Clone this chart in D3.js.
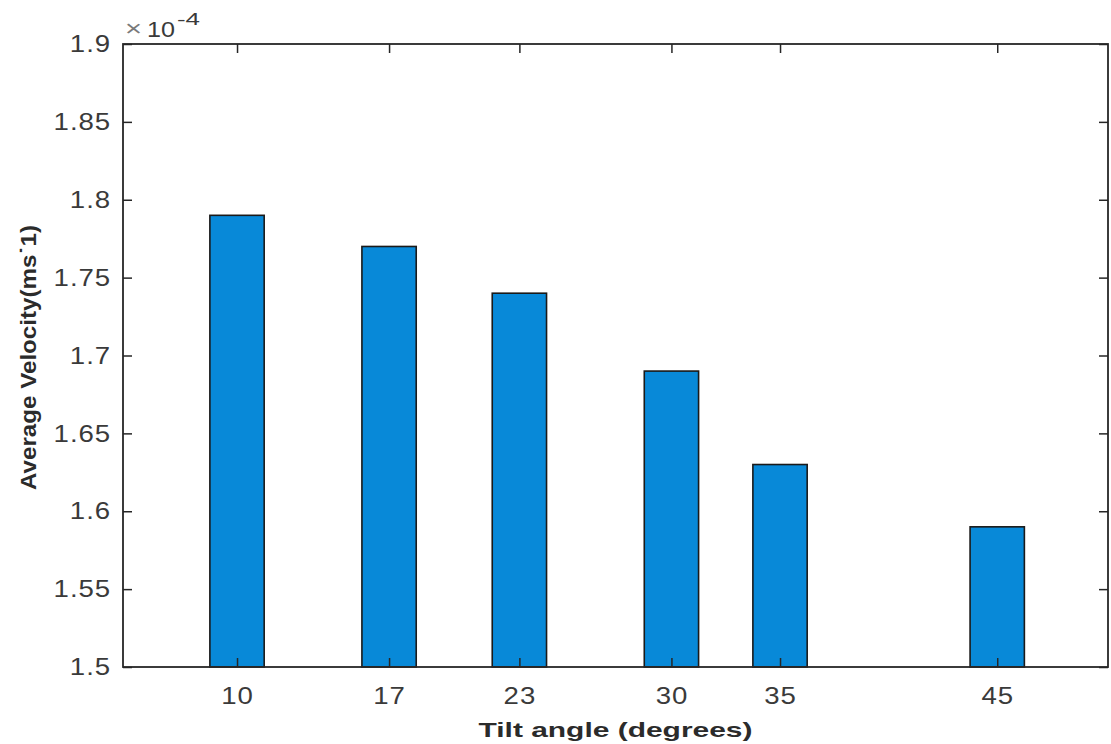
<!DOCTYPE html>
<html>
<head>
<meta charset="utf-8">
<script src="https://cdn.jsdelivr.net/npm/d3@7"></script>
<style>
  html, body { margin: 0; padding: 0; background: #fff; }
  svg { display: block; }
  text { font-family: "Liberation Sans", Arial, Helvetica, sans-serif; }
</style>
</head>
<body>
<svg id="chart" width="1111" height="744"></svg>
<script>
// Tilt angles (degrees) and the average velocity at each, in units of 1e-4 m/s
const angles = [10, 17, 23, 30, 35, 45];
const velocity = [1.79, 1.77, 1.74, 1.69, 1.63, 1.59];
const yTicks = [1.5, 1.55, 1.6, 1.65, 1.7, 1.75, 1.8, 1.85, 1.9];
const yTickLabels = ["1.5", "1.55", "1.6", "1.65", "1.7", "1.75", "1.8", "1.85", "1.9"];
const xTickLabels = ["10", "17", "23", "30", "35", "45"];
const barWidthUnits = 2.5;

const svg = d3.select("#chart");
const plotLeft = 123, plotRight = 1108, plotTop = 44, plotBottom = 667;
const axisColor = "#262626";
const textColor = "#3a3a3a";
const stretch = 1.15; // labels are drawn slightly wide

const x = d3.scaleLinear().domain([4.75, 50.1]).range([plotLeft, plotRight]);
const y = d3.scaleLinear().domain([1.5, 1.9]).range([plotBottom, plotTop]);

// bars
svg.append("g").selectAll("rect")
  .data(angles)
  .join("rect")
  .attr("x", (d) => x(d - barWidthUnits / 2))
  .attr("width", (d) => x(d + barWidthUnits / 2) - x(d - barWidthUnits / 2))
  .attr("y", (d, i) => y(velocity[i]))
  .attr("height", (d, i) => y(1.5) - y(velocity[i]))
  .attr("fill", "#0889d8")
  .attr("stroke", "#1a1a1a")
  .attr("stroke-width", 1.6);

const tickLen = 9;

// bottom axis: inward ticks with labels below
const xAxisBottom = d3.axisBottom(x)
  .tickValues(angles)
  .tickFormat((d, i) => xTickLabels[i])
  .tickSizeInner(-tickLen).tickSizeOuter(0).tickPadding(20);
const gxb = svg.append("g").attr("transform", `translate(0,${plotBottom})`).call(xAxisBottom);

// top axis: inward ticks only
const xAxisTop = d3.axisTop(x).tickValues(angles).tickFormat("")
  .tickSizeInner(-tickLen).tickSizeOuter(0);
const gxt = svg.append("g").attr("transform", `translate(0,${plotTop})`).call(xAxisTop);

// left axis with labels
const yAxisLeft = d3.axisLeft(y)
  .tickValues(yTicks)
  .tickFormat((d, i) => yTickLabels[i])
  .tickSizeInner(-tickLen).tickSizeOuter(0).tickPadding(12);
const gyl = svg.append("g").attr("transform", `translate(${plotLeft},0)`).call(yAxisLeft);

// right axis: inward ticks only
const yAxisRight = d3.axisRight(y).tickValues(yTicks).tickFormat("")
  .tickSizeInner(-tickLen).tickSizeOuter(0);
const gyr = svg.append("g").attr("transform", `translate(${plotRight},0)`).call(yAxisRight);

[gxb, gxt, gyl, gyr].forEach((g) => {
  g.select(".domain").remove();
  g.selectAll(".tick line").attr("stroke", axisColor).attr("stroke-width", 1.5);
  g.selectAll(".tick text")
    .attr("fill", textColor)
    .attr("font-size", 24)
    .attr("letter-spacing", "0.8px");
});
gxb.selectAll(".tick text").attr("transform", `scale(${stretch},1)`);
gyl.selectAll(".tick text")
  .attr("x", -12 / stretch)
  .attr("transform", `scale(${stretch},1)`);

// axes box
svg.append("rect")
  .attr("x", plotLeft).attr("y", plotTop)
  .attr("width", plotRight - plotLeft).attr("height", plotBottom - plotTop)
  .attr("fill", "none")
  .attr("stroke", axisColor)
  .attr("stroke-width", 1.8);

// exponent marker: "× 10^-4"
const expo = svg.append("g").attr("fill", textColor);
expo.append("text").attr("x", 125).attr("y", 36).attr("font-size", 22)
  .attr("fill", "#7a7a7a")
  .attr("textLength", 17).attr("lengthAdjust", "spacingAndGlyphs").text("\u00d7");
expo.append("text").attr("x", 147).attr("y", 37).attr("font-size", 22)
  .attr("textLength", 28).attr("lengthAdjust", "spacingAndGlyphs").text("10");
expo.append("text").attr("x", 177).attr("y", 25).attr("font-size", 16)
  .attr("textLength", 23).attr("lengthAdjust", "spacingAndGlyphs").text("-4");

// axis titles
svg.append("text")
  .attr("x", (plotLeft + plotRight) / 2)
  .attr("y", 737)
  .attr("text-anchor", "middle")
  .attr("font-size", 21)
  .attr("font-weight", "bold")
  .attr("fill", "#2b2b2b")
  .attr("textLength", 274)
  .attr("lengthAdjust", "spacingAndGlyphs")
  .text("Tilt angle (degrees)");

svg.append("text")
  .attr("transform", `translate(36,${(plotTop + plotBottom) / 2 + 2}) rotate(-90)`)
  .attr("text-anchor", "middle")
  .attr("font-size", 22)
  .attr("font-weight", "bold")
  .attr("fill", "#2b2b2b")
  .attr("textLength", 265)
  .attr("lengthAdjust", "spacingAndGlyphs")
  .text("Average Velocity(ms\u02d91)");
</script>
</body>
</html>
